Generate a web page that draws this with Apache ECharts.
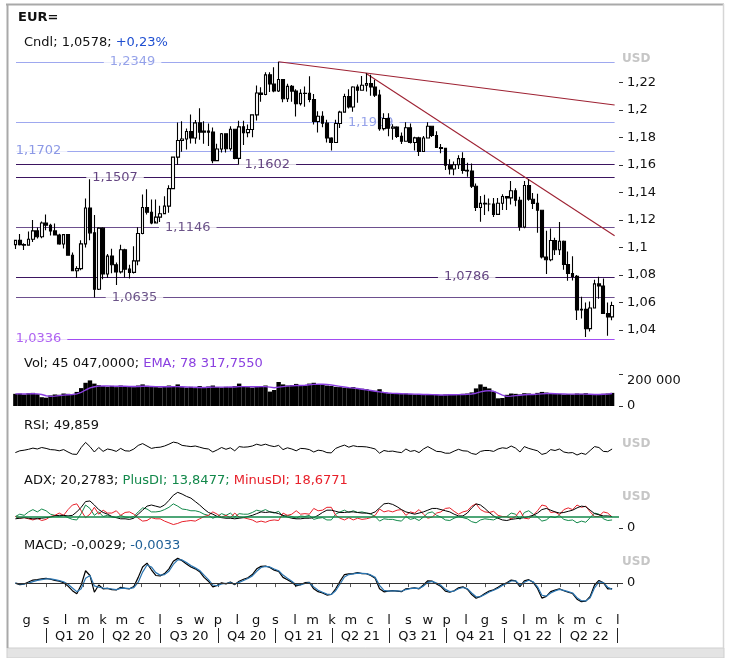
<!DOCTYPE html>
<html><head><meta charset="utf-8">
<script src="https://cdn.jsdelivr.net/npm/echarts@6/dist/echarts.min.js"></script>
<style>html,body{margin:0;padding:0;background:#fff}#c{width:730px;height:658px}</style>
</head><body><div id="c"></div>
<script>
const FONT = 'DejaVu Sans';
// weekly candles, one per week starting the week of 13 Nov 2019: [open, close, low, high]
const ohlc = [
[1.1020,1.1051,1.0989,1.1055],[1.1051,1.1020,1.1014,1.1097],[1.1020,1.1017,1.0981,1.1030],[1.1017,1.1059,1.1015,1.1116],
[1.1059,1.1120,1.1040,1.1200],[1.1120,1.1078,1.1065,1.1145],[1.1078,1.1177,1.1066,1.1188],[1.1177,1.1161,1.1125,1.1239],
[1.1161,1.1120,1.1086,1.1172],[1.1120,1.1090,1.1086,1.1173],[1.1090,1.1025,1.1019,1.1100],[1.1025,1.1093,1.0992,1.1096],
[1.1093,1.0943,1.0940,1.1095],[1.0943,1.0831,1.0827,1.0964],[1.0831,1.0846,1.0778,1.0863],[1.0846,1.1026,1.0834,1.1053],
[1.1026,1.1286,1.1000,1.1355],[1.1286,1.1106,1.1053,1.1496],[1.1106,1.0696,1.0636,1.1236],[1.0696,1.1140,1.0690,1.1147],
[1.1140,1.0807,1.0769,1.1147],[1.0807,1.0937,1.0780,1.0952],[1.0937,1.0874,1.0813,1.0991],[1.0874,1.0822,1.0727,1.0890],
[1.0822,1.0983,1.0810,1.1019],[1.0983,1.0842,1.0782,1.0990],[1.0842,1.0819,1.0775,1.0875],[1.0819,1.0902,1.0810,1.1008],
[1.0902,1.1101,1.0870,1.1147],[1.1101,1.1290,1.1095,1.1384],[1.1290,1.1256,1.1240,1.1422],[1.1256,1.1177,1.1168,1.1349],
[1.1177,1.1220,1.1190,1.1349],[1.1220,1.1245,1.1185,1.1303],[1.1245,1.1300,1.1250,1.1371],[1.1300,1.1427,1.1252,1.1452],
[1.1427,1.1656,1.1430,1.1660],[1.1656,1.1777,1.1600,1.1908],[1.1777,1.1788,1.1696,1.1916],[1.1788,1.1842,1.1711,1.1865],
[1.1842,1.1795,1.1755,1.1966],[1.1795,1.1905,1.1753,1.1926],[1.1905,1.1838,1.1782,1.2011],[1.1838,1.1845,1.1754,1.1917],
[1.1845,1.1838,1.1737,1.1901],[1.1838,1.1631,1.1612,1.1872],[1.1631,1.1715,1.1628,1.1753],[1.1715,1.1826,1.1689,1.1831],
[1.1826,1.1717,1.1689,1.1829],[1.1717,1.1859,1.1702,1.1881],[1.1859,1.1647,1.1640,1.1860],[1.1647,1.1876,1.1602,1.1920],
[1.1876,1.1834,1.1745,1.1920],[1.1834,1.1857,1.1800,1.1894],[1.1857,1.1963,1.1801,1.1964],[1.1963,1.2122,1.1922,1.2177],
[1.2122,1.2111,1.2058,1.2163],[1.2111,1.2254,1.2106,1.2273],[1.2254,1.2188,1.2130,1.2272],[1.2188,1.2137,1.2127,1.2310],
[1.2137,1.2220,1.2130,1.2349],[1.2220,1.2080,1.2054,1.2223],[1.2080,1.2170,1.2056,1.2190],[1.2170,1.2136,1.2059,1.2180],
[1.2136,1.2045,1.1952,1.2150],[1.2045,1.2119,1.2032,1.2150],[1.2119,1.2120,1.2023,1.2170],[1.2120,1.2075,1.2054,1.2243],
[1.2075,1.1915,1.1894,1.2114],[1.1915,1.1953,1.1835,1.1990],[1.1953,1.1903,1.1873,1.1989],[1.1903,1.1795,1.1762,1.1928],
[1.1795,1.1762,1.1704,1.1800],[1.1762,1.1900,1.1760,1.1927],[1.1900,1.1983,1.1867,1.1994],[1.1983,1.2097,1.1980,1.2117],
[1.2097,1.2020,1.2010,1.2150],[1.2020,1.2166,1.1986,1.2172],[1.2166,1.2142,1.2051,1.2183],[1.2142,1.2178,1.2140,1.2245],
[1.2178,1.2190,1.2133,1.2266],[1.2190,1.2166,1.2103,1.2255],[1.2166,1.2107,1.2093,1.2218],[1.2107,1.1863,1.1847,1.2145],
[1.1863,1.1937,1.1850,1.1975],[1.1937,1.1866,1.1807,1.1975],[1.1866,1.1875,1.1782,1.1895],[1.1875,1.1807,1.1795,1.1880],
[1.1807,1.1771,1.1752,1.1835],[1.1771,1.1870,1.1770,1.1909],[1.1870,1.1762,1.1755,1.1900],[1.1762,1.1796,1.1705,1.1805],
[1.1796,1.1697,1.1664,1.1805],[1.1697,1.1795,1.1697,1.1810],[1.1795,1.1880,1.1794,1.1909],[1.1880,1.1813,1.1802,1.1885],
[1.1813,1.1726,1.1722,1.1845],[1.1726,1.1720,1.1684,1.1752],[1.1720,1.1597,1.1563,1.1720],[1.1597,1.1570,1.1529,1.1640],
[1.1570,1.1601,1.1524,1.1624],[1.1601,1.1645,1.1570,1.1669],[1.1645,1.1560,1.1535,1.1692],[1.1560,1.1555,1.1513,1.1616],
[1.1555,1.1445,1.1432,1.1609],[1.1445,1.1290,1.1264,1.1464],[1.1290,1.1320,1.1186,1.1374],[1.1320,1.1315,1.1235,1.1383],
[1.1315,1.1315,1.1262,1.1355],[1.1315,1.1240,1.1221,1.1360],[1.1240,1.1321,1.1235,1.1360],[1.1321,1.1370,1.1272,1.1386],
[1.1370,1.1360,1.1272,1.1368],[1.1360,1.1412,1.1312,1.1482],[1.1412,1.1343,1.1300,1.1430],[1.1343,1.1148,1.1121,1.1369],
[1.1148,1.1450,1.1140,1.1483],[1.1450,1.1350,1.1340,1.1495],[1.1350,1.1320,1.1280,1.1395],[1.1320,1.1270,1.1106,1.1390],
[1.1270,1.0930,1.0920,1.1274],[1.0930,1.0910,1.0806,1.1121],[1.0910,1.1050,1.0900,1.1137],[1.1050,1.0983,1.0945,1.1070],
[1.0983,1.1045,1.0945,1.1185],[1.1045,1.0876,1.0837,1.1050],[1.0876,1.0810,1.0757,1.0970],[1.0810,1.0790,1.0760,1.0936],
[1.0790,1.0545,1.0472,1.0800],[1.0545,1.0550,1.0483,1.0642],[1.0550,1.0410,1.0350,1.0600],[1.0410,1.0560,1.0390,1.0607],
[1.0560,1.0735,1.0560,1.0765],[1.0735,1.0720,1.0627,1.0787],[1.0720,1.0520,1.0516,1.0774],[1.0520,1.0495,1.0359,1.0600],
[1.0495,1.0578,1.0470,1.0605]
];
// weekly average volume (thousands)
const volume = [76,78,72,80,82,74,55,52,66,72,70,78,76,74,88,112,145,160,140,
130,124,120,126,118,128,122,120,118,128,135,126,
122,118,116,120,128,125,135,118,115,120,112,125,118,
122,128,118,115,120,118,125,140,122,118,115,125,122,128,90,100,
150,135,128,130,138,125,128,140,145,135,132,128,125,120,118,115,112,118,110,108,
105,100,95,105,85,80,78,76,75,78,74,72,75,70,74,72,70,68,72,74,70,72,76,78,
85,110,135,120,110,90,48,50,
70,78,76,72,80,78,72,82,88,84,78,75,76,72,74,72,78,76,80,72,70,74,76,78,82];
const volEma = [76,76,75,76,77,76,72,64,60,62,65,68,70,72,76,85,100,113,120,124,126,125,
124,123,123,123,122,122,122,123,123,122,121,120,120,120,121,121,120,119,118,117,116,116,
117,118,118,118,118,119,119,121,121,121,120,120,121,121,118,114,118,121,124,126,128,128,130,133,135,136,
136,134,131,127,123,119,115,112,109,105,101,97,92,88,
84,81,79,78,77,76,75,74,73,72,72,71,70,69,69,70,70,71,72,73,
75,80,88,94,96,92,80,68,60,62,65,67,70,72,72,
74,76,78,78,77,76,75,74,74,74,74,74,73,72,72,73,74,78];
const rsi = [38,44,46,49,53,50,55,52,48,47,44,48,40,33,32,55,72,58,40,55,42,50,47,42,52,44,43,50,62,68,
60,52,55,56,60,66,73,70,62,60,58,60,56,52,50,40,47,55,49,54,44,58,56,57,60,66,62,66,61,58,
62,48,54,50,44,52,51,48,40,46,44,38,37,52,58,63,56,61,58,58,57,54,50,36,45,42,43,40,38,50,
42,45,38,50,58,50,42,41,36,36,43,49,44,43,35,32,42,45,45,42,50,54,52,60,53,40,58,52,48,44,
32,36,48,45,50,40,37,38,30,36,32,45,58,55,42,41,50];
const adx = [16,17,18,17,16,16,17,18,19,21,22,22,21,22,28,36,46,47,40,32,27,24,20,18,16,16,15,17,
24,31,38,40,38,36,40,48,57,62,59,55,52,46,40,33,27,24,20,18,17,17,16,17,18,20,22,25,28,27,28,27,25,
22,19,17,16,16,17,17,18,22,27,31,31,29,27,27,28,28,27,26,26,25,28,35,42,43,41,37,32,28,26,
24,26,28,31,34,34,32,30,28,24,21,21,26,35,42,40,34,27,21,17,14,13,15,16,17,18,20,
22,26,32,34,31,28,26,27,29,31,35,38,37,31,25,23,21,21,20];
const plusDI = [20,24,22,28,32,28,33,30,24,22,20,22,18,15,14,25,40,34,22,28,20,22,19,18,22,19,18,20,
28,35,33,28,28,29,32,36,42,38,33,32,30,30,28,24,22,17,20,25,22,26,19,25,24,24,27,31,29,32,28,26,29,
20,22,20,17,21,20,22,15,17,18,14,14,24,28,31,27,30,27,28,26,24,20,
12,16,15,15,13,12,20,15,17,13,19,26,28,22,19,14,13,17,20,18,16,11,9,14,16,15,14,18,20,
20,26,24,15,27,30,24,19,12,14,20,18,22,15,13,14,9,12,10,18,26,24,16,13,14];
const minusDI = [20,17,18,16,14,17,13,15,20,22,26,22,32,40,42,30,18,24,36,24,31,26,26,30,22,27,28,24,
17,12,13,18,16,16,12,9,6,8,11,12,13,12,16,20,22,28,24,19,22,18,26,19,18,16,14,10,12,10,13,14,13,
26,22,24,30,24,25,24,34,30,31,36,36,22,17,14,18,14,17,15,16,18,22,
33,28,30,28,31,32,22,28,26,32,24,17,19,26,28,34,35,29,24,28,30,38,42,32,28,27,29,22,20,
20,16,20,30,17,16,22,30,40,38,27,28,23,32,35,32,40,36,38,28,20,20,28,26,19];
const macd = [0.0000,-0.0008,-0.0005,0.0006,0.0016,0.0018,0.0022,0.0025,0.0020,0.0014,0.0010,0.0002,-0.0016,-0.0040,
-0.0056,-0.0010,0.0065,0.0040,-0.0048,-0.0010,-0.0030,-0.0028,-0.0034,-0.0036,-0.0022,-0.0028,-0.0030,-0.0018,
0.0030,0.0085,0.0105,0.0070,0.0040,0.0038,0.0050,0.0075,0.0115,0.0130,0.0118,0.0100,0.0085,0.0075,0.0060,0.0030,
0.0010,-0.0020,-0.0012,0.0002,-0.0004,0.0005,-0.0008,0.0010,0.0020,0.0028,0.0045,0.0075,0.0088,0.0090,0.0082,
0.0068,0.0062,0.0030,0.0018,0.0005,-0.0015,-0.0008,0.0002,0.0004,-0.0030,-0.0045,-0.0052,-0.0063,-0.0060,-0.0030,
0.0010,0.0045,0.0048,0.0050,0.0055,0.0050,0.0050,0.0040,0.0025,-0.0030,-0.0046,-0.0042,-0.0040,-0.0042,-0.0045,
-0.0030,-0.0028,-0.0025,-0.0030,-0.0010,0.0012,0.0010,-0.0005,-0.0018,-0.0042,-0.0048,-0.0040,-0.0025,-0.0020,
-0.0032,-0.0060,-0.0080,-0.0070,-0.0055,-0.0042,-0.0035,-0.0022,-0.0008,0.0002,0.0016,0.0012,-0.0018,0.0012,
0.0018,0.0004,-0.0028,-0.0079,-0.0070,-0.0045,-0.0037,-0.0030,-0.0040,-0.0048,-0.0055,-0.0085,-0.0098,-0.0095,
-0.0070,-0.0010,0.0014,0.0002,-0.0030,-0.0029];
const macdSignal = [0.0000,-0.0004,-0.0005,0.0000,0.0008,0.0014,0.0018,0.0022,0.0022,0.0018,0.0013,0.0007,-0.0006,-0.0026,
-0.0045,-0.0030,0.0025,0.0040,-0.0015,-0.0022,-0.0026,-0.0028,-0.0031,-0.0034,-0.0028,-0.0027,-0.0029,-0.0024,
0.0005,0.0058,0.0095,0.0085,0.0055,0.0042,0.0045,0.0062,0.0098,0.0122,0.0122,0.0108,0.0092,0.0080,0.0066,0.0042,
0.0018,-0.0010,-0.0014,-0.0004,-0.0002,0.0002,-0.0004,0.0004,0.0014,0.0024,0.0038,0.0062,0.0082,0.0088,0.0085,
0.0074,0.0065,0.0042,0.0025,0.0010,-0.0008,-0.0010,-0.0002,0.0002,-0.0020,-0.0038,-0.0048,-0.0058,-0.0060,-0.0040,
-0.0005,0.0032,0.0045,0.0048,0.0052,0.0051,0.0050,0.0043,0.0030,-0.0012,-0.0038,-0.0042,-0.0041,-0.0041,-0.0043,
-0.0034,-0.0029,-0.0026,-0.0028,-0.0016,0.0004,0.0009,0.0000,-0.0012,-0.0033,-0.0045,-0.0042,-0.0030,-0.0023,
-0.0029,-0.0052,-0.0072,-0.0071,-0.0060,-0.0047,-0.0038,-0.0027,-0.0013,-0.0002,0.0011,0.0012,-0.0010,0.0004,
0.0015,0.0007,-0.0020,-0.0064,-0.0069,-0.0052,-0.0041,-0.0033,-0.0038,-0.0045,-0.0052,-0.0077,-0.0093,-0.0094,
-0.0077,-0.0025,0.0006,0.0003,-0.0022,-0.0033];
const levelValues = [1.2349,1.1909,1.1702,1.1602,1.1507,1.1146,1.0786,1.0635,1.0336];
const levelLabels = ['1,2349','1,1909','1,1702','1,1602','1,1507','1,1146','1,0786','1,0635','1,0336'];
const levelLabelDates = ['2020-05-18','2021-06-02','2019-12-20','2020-12-19','2020-04-20','2020-08-14','2021-11-02','2020-05-21','2019-12-20'];
const trendA = [['2021-01-06',1.2349],['2022-06-26',1.2035]];
const trendB = [['2021-05-25',1.2266],['2022-06-26',1.1085]];
const priceTicks = [1.04,1.06,1.08,1.10,1.12,1.14,1.16,1.18,1.20,1.22];
const monthLetters = ['g','s','l','m','k','m','c','l','s','w','p','l','g','s','l','m','k','m','c','l','s','w','p','l','g','s','l','m','k','m','c','l'];
const quarterLabels = ['Q1 20','Q2 20','Q3 20','Q4 20','Q1 21','Q2 21','Q3 21','Q4 21','Q1 22','Q2 22'];

// ---- build ----
const ts = s => { const p = s.split('-').map(Number); return new Date(p[0], p[1]-1, p[2]).getTime(); };
const xMin = ts('2019-11-14'), xMax = ts('2022-07-03'), lineEnd = ts('2022-06-26');
const weeks = ohlc.map((d,i) => new Date(2019, 10, 13 + 7*i).getTime());
const monthTs = monthLetters.map((m,i) => new Date(2019, 11 + i, 1).getTime());
const quarterTs = []; for (let q = 0; q <= quarterLabels.length; q++) quarterTs.push(new Date(2020, 3*q, 1).getTime());
const quarterMid = quarterLabels.map((q,i) => (quarterTs[i] + quarterTs[i+1]) / 2);
const nearest = (arr, v) => { let b = 0; arr.forEach((t,i) => { if (Math.abs(t-v) < Math.abs(arr[b]-v)) b = i; }); return b; };
const fmtPrice = v => v.toFixed(2).replace(/0+$/,'').replace(/\.$/,'').replace('.', ',');

const levelLine = ['#9ea8ef','#9ea8ef','#9ea8ef','#3b1460','#3b1460','#6d4f8e','#3b1460','#6d4f8e','#a24cf2'];
const levelText = ['#7b8be3','#7b8be3','#6f80e0','#3b1460','#3b1460','#46286a','#3b1460','#46286a','#9a3cee'];

const G = {left:16, right:111, outerBoundsMode:'none'};
const grids = [
  Object.assign({top:52, height:293}, G),
  Object.assign({top:374, height:32}, G),
  Object.assign({top:434, height:30}, G),
  Object.assign({top:470.5, height:57.5}, G),
  Object.assign({top:552.1, height:51.9}, G)
];
const hiddenX = k => ({type:'value', gridIndex:k, min:xMin, max:xMax, show:false, splitLine:{show:false}});
const lbl = {fontFamily:FONT, fontSize:13, color:'#111'};
const rightAxis = (k, min, max, vals, fmt, extra) => ({
  type:'value', gridIndex:k, position:'right', min, max,
  splitLine:{show:false}, axisLine:{show:false},
  axisTick:{show:true, customValues:vals, length:4, lineStyle:{color:'#333'}},
  axisLabel:Object.assign({customValues:vals, formatter:fmt, margin:8}, lbl, extra||{})
});
const titleTxt = (left, top, text, rich, bold) => ({left, top, padding:0, text,
  textStyle:{fontFamily:FONT, fontSize:13, fontWeight: bold ? 'bold' : 'normal', color:'#111', rich: rich || {}}});
const usd = top => ({left:622, top, padding:0, text:'USD', textStyle:{fontFamily:FONT, fontSize:12, fontWeight:'bold', color:'#c6c6c6'}});
const R = c => ({fontFamily:FONT, fontSize:13, color:c});

const lineData = levelValues.map((v,i) => ({coords:[[xMin, v],[lineEnd, v]], lineStyle:{color:levelLine[i], width:1.1, opacity:1}}));
lineData.push({coords:trendA.map(p => [ts(p[0]), p[1]]), lineStyle:{color:'#9e2233', width:1.1, opacity:1}});
lineData.push({coords:trendB.map(p => [ts(p[0]), p[1]]), lineStyle:{color:'#9e2233', width:1.1, opacity:1}});

const option = {
  animation:false,
  backgroundColor:'#fff',
  textStyle:{fontFamily:FONT},
  title:[
    titleTxt(18, 11, 'EUR=', null, true),
    titleTxt(24, 36, 'Cndl; 1,0578; {b|+0,23%}', {b:R('#1f4fd1')}),
    titleTxt(24, 357, 'Vol; 45 047,0000; {p|EMA; 78 317,7550}', {p:R('#8a3fe0')}),
    titleTxt(24, 419, 'RSI; 49,859'),
    titleTxt(24, 474, 'ADX; 20,2783; {g|PlusDI; 13,8477;} {r|MinusDI; 18,6771}', {g:R('#12884a'), r:R('#e8202a')}),
    titleTxt(24, 539, 'MACD; -0,0029; {b|-0,0033}', {b:R('#1e5f96')}),
    usd(53), usd(438), usd(491), usd(556)
  ],
  grid:grids,
  xAxis:[
    hiddenX(0), hiddenX(1), hiddenX(2), hiddenX(3),
    {type:'value', gridIndex:4, min:xMin, max:xMax, position:'bottom',
     axisLine:{show:false}, splitLine:{show:false},
     axisTick:{show:true, customValues:monthTs, length:4, lineStyle:{color:'#555'}},
     axisLabel:Object.assign({customValues:monthTs, margin:10, formatter:v => monthLetters[nearest(monthTs, v)]}, lbl)},
    {type:'value', gridIndex:4, min:xMin, max:xMax, position:'bottom', offset:24,
     axisLine:{show:false}, splitLine:{show:false},
     axisTick:{show:true, customValues:quarterTs, length:15, lineStyle:{color:'#222'}},
     axisLabel:Object.assign({customValues:quarterMid, margin:2, formatter:v => quarterLabels[nearest(quarterMid, v)]}, lbl)}
  ],
  yAxis:[
    rightAxis(0, 1.0291, 1.2420, priceTicks, fmtPrice),
    rightAxis(1, 0, 200000, [200000], () => '200 000', {verticalAlign:'top'}),
    rightAxis(1, 0, 200000, [0], () => '0'),
    {type:'value', gridIndex:2, min:0, max:100, show:false, splitLine:{show:false}},
    rightAxis(3, 0, 100, [0], () => '0'),
    rightAxis(4, -0.011, 0.0163, [0], () => '0')
  ],
  series:[
    {type:'lines', coordinateSystem:'cartesian2d', xAxisIndex:0, yAxisIndex:0, z:1, silent:true, data:lineData},
    {type:'scatter', xAxisIndex:0, yAxisIndex:0, z:1.5, silent:true, symbolSize:1, itemStyle:{color:'rgba(0,0,0,0)'},
     data:levelValues.map((v,i) => ({value:[ts(levelLabelDates[i]), v], label:{color:levelText[i]}})),
     label:{show:true, position:'inside', formatter:p => levelLabels[p.dataIndex], backgroundColor:'#fff',
            padding:[1,6], fontFamily:FONT, fontSize:13}},
    {type:'candlestick', xAxisIndex:0, yAxisIndex:0, z:2, barWidth:3.2,
     encode:{x:0, y:[1,2,3,4]},
     data:ohlc.map((d,i) => [weeks[i], d[0], d[1], d[2], d[3]]),
     itemStyle:{color:'#ffffff', color0:'#000000', borderColor:'#000000', borderColor0:'#000000', borderWidth:1.1}},
    {type:'bar', xAxisIndex:1, yAxisIndex:1, barWidth:4.4, itemStyle:{color:'#000'},
     data:volume.map((v,i) => [weeks[i], v*1000])},
    {type:'line', xAxisIndex:1, yAxisIndex:1, symbol:'none', lineStyle:{color:'#8a3fe0', width:1.4},
     data:volEma.map((v,i) => [weeks[i], v*1000])},
    {type:'line', xAxisIndex:2, yAxisIndex:3, symbol:'none', lineStyle:{color:'#000', width:1},
     data:rsi.map((v,i) => [weeks[i], v])},
    {type:'line', xAxisIndex:3, yAxisIndex:4, symbol:'none', lineStyle:{color:'#12884a', width:1},
     data:plusDI.map((v,i) => [weeks[i], v]),
     markLine:{silent:true, symbol:['none','none'], label:{show:false}, lineStyle:{color:'#12884a', width:1.5, type:'solid', opacity:1}, data:[{yAxis:20}]}},
    {type:'line', xAxisIndex:3, yAxisIndex:4, symbol:'none', lineStyle:{color:'#e8202a', width:1},
     data:minusDI.map((v,i) => [weeks[i], v])},
    {type:'line', xAxisIndex:3, yAxisIndex:4, symbol:'none', lineStyle:{color:'#000', width:1},
     data:adx.map((v,i) => [weeks[i], v])},
    {type:'line', xAxisIndex:4, yAxisIndex:5, symbol:'none', lineStyle:{color:'#000', width:1.2},
     data:macd.map((v,i) => [weeks[i], v]),
     markLine:{silent:true, symbol:['none','none'], label:{show:false}, lineStyle:{color:'#333', width:1, type:'solid', opacity:1}, data:[{yAxis:0}]}},
    {type:'line', xAxisIndex:4, yAxisIndex:5, symbol:'none', lineStyle:{color:'#2a74b0', width:1.2},
     data:macdSignal.map((v,i) => [weeks[i], v])}
  ],
  graphic:[
    {type:'rect', silent:true, z:100, shape:{x:7, y:648, width:717, height:10}, style:{fill:'#e4e4e4', stroke:'#cfcfcf', lineWidth:1}},
    {type:'line', silent:true, z:100, shape:{x1:6, y1:4.5, x2:724, y2:4.5}, style:{stroke:'#a9a9a9', lineWidth:2}},
    {type:'line', silent:true, z:100, shape:{x1:7.5, y1:4, x2:7.5, y2:648}, style:{stroke:'#a9a9a9', lineWidth:2}},
    {type:'line', silent:true, z:100, shape:{x1:723.5, y1:4, x2:723.5, y2:648}, style:{stroke:'#d6d6d6', lineWidth:1.5}}
  ]
};
const chart = echarts.init(document.getElementById('c'), null, {renderer:'canvas'});
chart.setOption(option);
</script>
</body></html>
